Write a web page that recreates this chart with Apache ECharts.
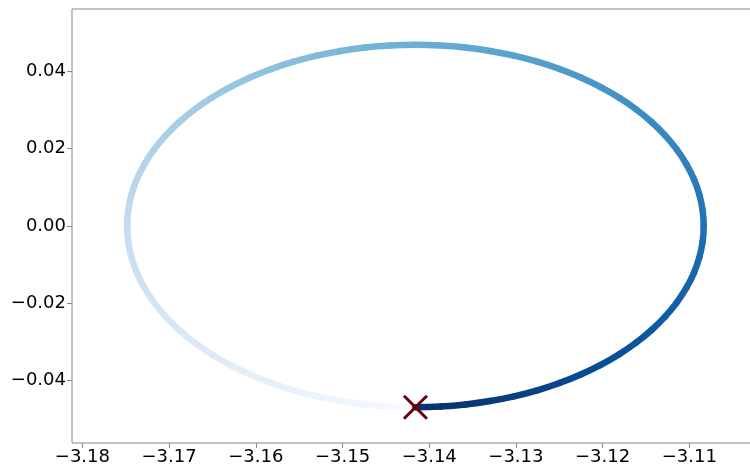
<!DOCTYPE html>
<html>
<head>
<meta charset="utf-8">
<script src="https://cdn.jsdelivr.net/npm/echarts@6/dist/echarts.min.js"></script>
<style>
  html, body { margin: 0; padding: 0; background: #ffffff; }
  #chart { width: 750px; height: 468px; }
</style>
</head>
<body>
<div id="chart"></div>
<script>
// Phase-space trajectory (position, momentum) over one period, in time order.
const positions = [
  -3.14159, -3.144488, -3.147364, -3.150196, -3.152962, -3.155642, -3.158215, -3.160662, -3.162963, -3.165101,
  -3.167061, -3.168827, -3.170385, -3.171725, -3.172835, -3.173707, -3.174335, -3.174713, -3.17484,
  -3.174713, -3.174335, -3.173707, -3.172835, -3.171725, -3.170385, -3.168827, -3.167061, -3.165101,
  -3.162963, -3.160662, -3.158215, -3.155642, -3.152962, -3.150196, -3.147364, -3.144488, -3.14159,
  -3.138692, -3.135816, -3.132984, -3.130218, -3.127538, -3.124965, -3.122518, -3.120217, -3.118079,
  -3.116119, -3.114353, -3.112795, -3.111455, -3.110345, -3.109473, -3.108845, -3.108467, -3.10834,
  -3.108467, -3.108845, -3.109473, -3.110345, -3.111455, -3.112795, -3.114353, -3.116119, -3.118079,
  -3.120217, -3.122518, -3.124965, -3.127538, -3.130218, -3.132984, -3.135816, -3.138692, -3.14159
];
const momenta = [
  -0.0469, -0.046721, -0.046188, -0.045302, -0.044071, -0.042506, -0.040617, -0.038418, -0.035927, -0.033163,
  -0.030147, -0.026901, -0.02345, -0.019821, -0.016041, -0.012139, -0.008144, -0.004088, 0,
  0.004088, 0.008144, 0.012139, 0.016041, 0.019821, 0.02345, 0.026901, 0.030147, 0.033163,
  0.035927, 0.038418, 0.040617, 0.042506, 0.044071, 0.045302, 0.046188, 0.046721, 0.0469,
  0.046721, 0.046188, 0.045302, 0.044071, 0.042506, 0.040617, 0.038418, 0.035927, 0.033163,
  0.030147, 0.026901, 0.02345, 0.019821, 0.016041, 0.012139, 0.008144, 0.004088, 0,
  -0.004088, -0.008144, -0.012139, -0.016041, -0.019821, -0.02345, -0.026901, -0.030147, -0.033163,
  -0.035927, -0.038418, -0.040617, -0.042506, -0.044071, -0.045302, -0.046188, -0.046721, -0.0469
];
// Initial state, marked with a cross.
const startPoint = [-3.14159, -0.0469];

const xTicks = [-3.18, -3.17, -3.16, -3.15, -3.14, -3.13, -3.12, -3.11];
const yTicks = [-0.04, -0.02, 0.00, 0.02, 0.04];

// "Blues" sequential colour ramp used to encode time along the path.
const bluesStops = ['#f7fbff', '#deebf7', '#c6dbef', '#9ecae1', '#6baed6', '#4292c6', '#2171b5', '#08519c', '#08306b'];
function hexToRgb(h) {
  return [parseInt(h.slice(1, 3), 16), parseInt(h.slice(3, 5), 16), parseInt(h.slice(5, 7), 16)];
}
const bluesRgb = bluesStops.map(hexToRgb);
function blues(t) {
  t = Math.max(0, Math.min(1, t));
  const f = t * (bluesRgb.length - 1);
  const i = Math.min(Math.floor(f), bluesRgb.length - 2);
  const u = f - i;
  const a = bluesRgb[i], b = bluesRgb[i + 1];
  const c = a.map((v, k) => Math.round(v + (b[k] - v) * u));
  return 'rgb(' + c.join(',') + ')';
}

// One piece per consecutive pair of samples, carrying its neighbours so the
// path can be drawn as a smooth closed curve:
// [x_prev, y_prev, x1, y1, x2, y2, x_next, y_next, t1, t2]
const n = positions.length;            // last sample repeats the first
const period = n - 1;
function wrap(i) { return ((i % period) + period) % period; }
const segments = [];
for (let i = 0; i < n - 1; i++) {
  const a = wrap(i - 1), b = i, c = i + 1, d = wrap(i + 2);
  segments.push([
    positions[a], momenta[a], positions[b], momenta[b],
    positions[c], momenta[c], positions[d], momenta[d],
    i / (n - 1), (i + 1) / (n - 1)
  ]);
}

function signedLabel(v) {
  const s = Math.abs(v).toFixed(2);
  return (v < -1e-12 ? '\u2212' : '') + s;
}

const labelFont = {
  fontFamily: 'DejaVu Sans',
  fontSize: 18,
  color: '#000000'
};

const chart = echarts.init(document.getElementById('chart'), null, { renderer: 'canvas' });
chart.setOption({
  animation: false,
  backgroundColor: '#ffffff',
  grid: {
    left: 72,
    top: 9,
    right: -2,
    bottom: 25,
    show: true,
    borderColor: '#888888',
    borderWidth: 1,
    backgroundColor: 'transparent',
    outerBoundsMode: 'none'
  },
  xAxis: {
    type: 'value',
    position: 'bottom',
    min: -3.1812,
    max: -3.10277,
    axisLine: { show: false, onZero: false },
    splitLine: { show: false },
    axisTick: { show: true, length: 5, customValues: xTicks, lineStyle: { color: '#888888', width: 1 } },
    axisLabel: Object.assign({ margin: 5, customValues: xTicks, formatter: signedLabel }, labelFont)
  },
  yAxis: {
    type: 'value',
    position: 'left',
    min: -0.05615,
    max: 0.05615,
    axisLine: { show: false, onZero: false },
    splitLine: { show: false },
    axisTick: { show: true, length: 5, customValues: yTicks, lineStyle: { color: '#888888', width: 1 } },
    axisLabel: Object.assign({ margin: 6, customValues: yTicks, formatter: signedLabel }, labelFont)
  },
  series: [
    {
      type: 'custom',
      coordinateSystem: 'cartesian2d',
      data: segments,
      encode: { x: [2, 4], y: [3, 5] },
      renderItem: function (params, api) {
        const p0 = api.coord([api.value(0), api.value(1)]);
        const p1 = api.coord([api.value(2), api.value(3)]);
        const p2 = api.coord([api.value(4), api.value(5)]);
        const p3 = api.coord([api.value(6), api.value(7)]);
        // Catmull-Rom tangents converted to cubic Bezier control points
        const cp1 = [p1[0] + (p2[0] - p0[0]) / 6, p1[1] + (p2[1] - p0[1]) / 6];
        const cp2 = [p2[0] - (p3[0] - p1[0]) / 6, p2[1] - (p3[1] - p1[1]) / 6];
        const c1 = blues(api.value(8));
        const c2 = blues(api.value(9));
        return {
          type: 'bezierCurve',
          shape: {
            x1: p1[0], y1: p1[1], x2: p2[0], y2: p2[1],
            cpx1: cp1[0], cpy1: cp1[1], cpx2: cp2[0], cpy2: cp2[1]
          },
          style: {
            fill: null,
            stroke: new echarts.graphic.LinearGradient(p1[0], p1[1], p2[0], p2[1],
              [{ offset: 0, color: c1 }, { offset: 1, color: c2 }], true),
            lineWidth: 6.5,
            lineCap: 'round'
          }
        };
      }
    },
    {
      type: 'custom',
      coordinateSystem: 'cartesian2d',
      data: [startPoint],
      z: 5,
      renderItem: function (params, api) {
        const p = api.coord([api.value(0), api.value(1)]);
        const r = 11.5;
        const style = { stroke: '#67000d', lineWidth: 3, lineCap: 'butt' };
        return {
          type: 'group',
          children: [
            { type: 'line', shape: { x1: p[0] - r, y1: p[1] - r, x2: p[0] + r, y2: p[1] + r }, style: style },
            { type: 'line', shape: { x1: p[0] - r, y1: p[1] + r, x2: p[0] + r, y2: p[1] - r }, style: style }
          ]
        };
      }
    }
  ]
});
</script>
</body>
</html>
